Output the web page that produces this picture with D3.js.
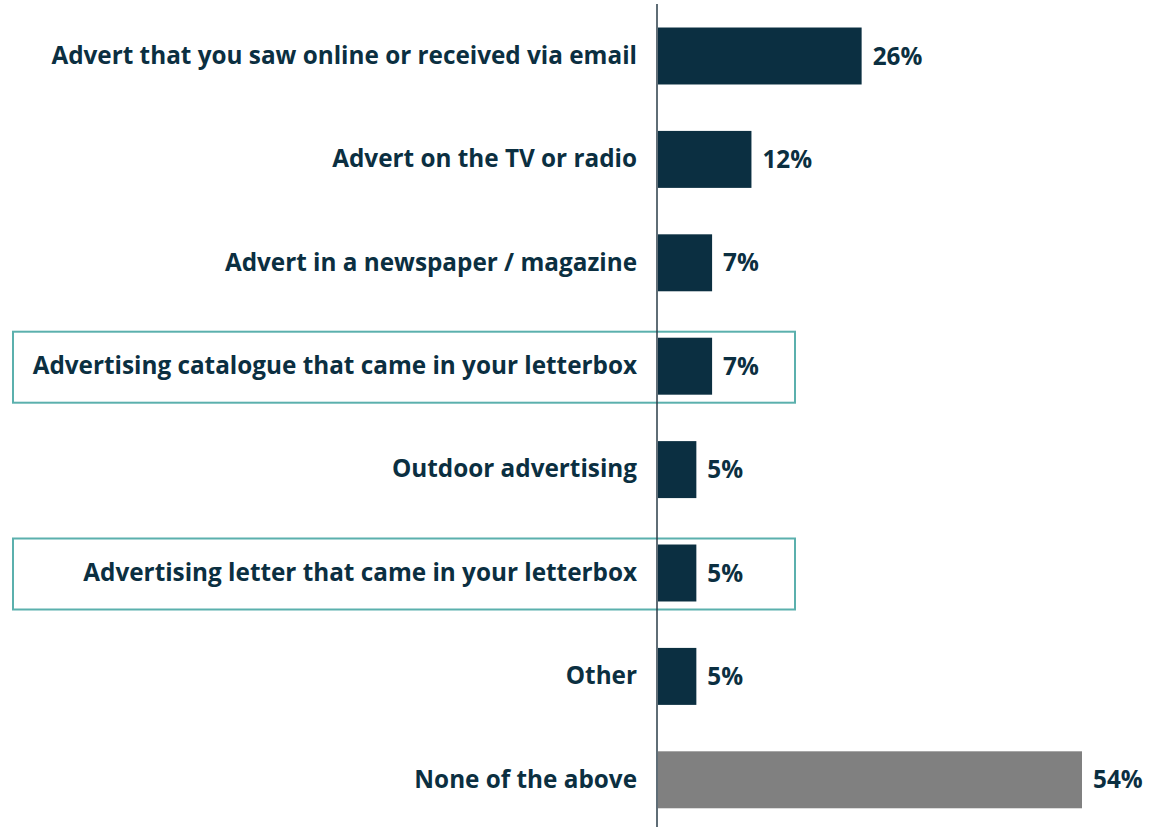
<!DOCTYPE html>
<html>
<head>
<meta charset="utf-8">
<script src="https://cdn.jsdelivr.net/npm/d3@7"></script>
<style>
  html, body { margin: 0; padding: 0; background: #ffffff; }
  svg { display: block; }
  text { font-family: "Open Sans", Lato, sans-serif; font-weight: 700; }
</style>
</head>
<body>
<svg id="chart" width="1149" height="827"></svg>
<script>
// Survey responses: where did you see the advertising?
const categories = [
  "Advert that you saw online or received via email",
  "Advert on the TV or radio",
  "Advert in a newspaper / magazine",
  "Advertising catalogue that came in your letterbox",
  "Outdoor advertising",
  "Advertising letter that came in your letterbox",
  "Other",
  "None of the above"
];
const values = [26, 12, 7, 7, 5, 5, 5, 54];
const highlighted = [
  "Advertising catalogue that came in your letterbox",
  "Advertising letter that came in your letterbox"
];
const greyCategories = ["None of the above"];

const W = 1149, H = 827;
const axisX = 657;
const fontSize = "24.3px";

const svg = d3.select("#chart");

const x = d3.scaleLinear().domain([0, 54]).range([axisX, 1082]);
const y = d3.scaleBand().domain(categories).range([4.3, 831.5]).paddingInner(0.449).paddingOuter(0.2245);

const navy = "#0b2f41";
const teal = "#5bb0ad";

// highlight frames around selected rows
svg.append("g").selectAll("rect")
  .data(highlighted)
  .join("rect")
  .attr("x", 13)
  .attr("width", 795 - 13)
  .attr("y", d => y(d) + y.bandwidth() / 2 - 34.5)
  .attr("height", 71)
  .attr("fill", "none")
  .attr("stroke", teal)
  .attr("stroke-width", 2);

// bars
svg.append("g").selectAll("rect")
  .data(categories)
  .join("rect")
  .attr("x", x(0) + 1)
  .attr("y", d => y(d))
  .attr("width", (d, i) => x(values[i]) - x(0) - 1)
  .attr("height", y.bandwidth())
  .attr("fill", d => greyCategories.includes(d) ? "#808080" : navy);

// category axis
const axis = svg.append("g")
  .attr("transform", `translate(${axisX},0)`)
  .call(d3.axisLeft(y).tickSize(0).tickPadding(20));
axis.select(".domain").remove();
axis.selectAll(".tick text")
  .attr("fill", navy)
  .style("font-size", fontSize)
  .style("font-family", "'Open Sans', Lato, sans-serif")
  .style("font-weight", "700");

svg.append("line")
  .attr("x1", axisX).attr("x2", axisX)
  .attr("y1", 4).attr("y2", H)
  .attr("stroke", "#2a3d48")
  .attr("stroke-width", 1.5);

// value labels
svg.append("g").selectAll("text")
  .data(categories)
  .join("text")
  .attr("x", (d, i) => x(values[i]) + 11)
  .attr("y", d => y(d) + y.bandwidth() / 2)
  .attr("dy", "0.35em")
  .attr("fill", navy)
  .style("font-size", fontSize)
  .text((d, i) => values[i] + "%");
</script>
</body>
</html>
